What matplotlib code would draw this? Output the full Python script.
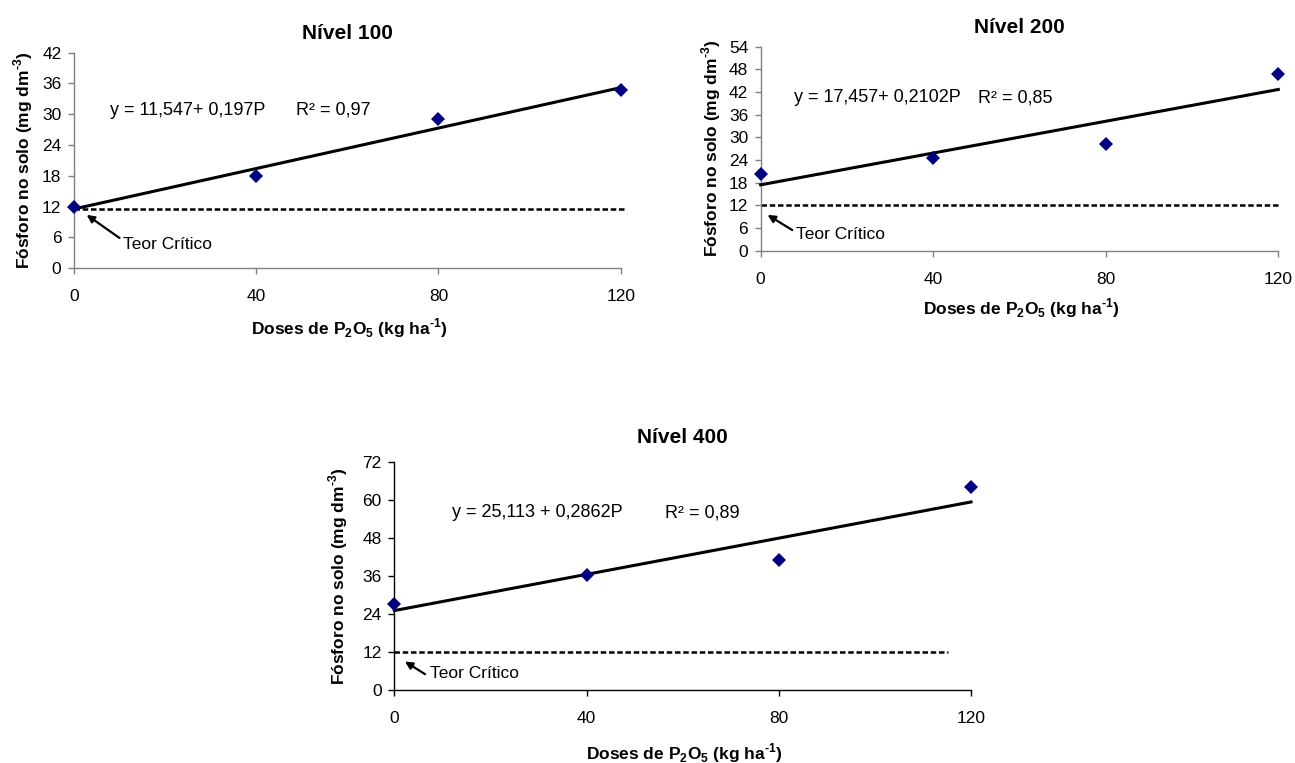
import matplotlib.pyplot as plt

plt.rcParams['font.family'] = ['Liberation Sans', 'DejaVu Sans']
plt.rcParams['mathtext.fontset'] = 'custom'
plt.rcParams['mathtext.rm'] = 'Liberation Sans:bold'
plt.rcParams['mathtext.bf'] = 'Liberation Sans:bold'
plt.rcParams['axes.unicode_minus'] = False

# ------------------------------------------------------------
# Data
# ------------------------------------------------------------
doses = [0, 40, 80, 120]
titles = ['Nível 100', 'Nível 200', 'Nível 400']
p_solo_100 = [12.0, 18.0, 29.1, 34.7]
p_solo_200 = [20.2, 24.5, 28.3, 46.8]
p_solo_400 = [27.2, 36.3, 41.0, 64.2]
p_solo = [p_solo_100, p_solo_200, p_solo_400]

intercepts = [11.547, 17.457, 25.113]
slopes = [0.197, 0.2102, 0.2862]
equations = ['y = 11,547+ 0,197P', 'y = 17,457+ 0,2102P', 'y = 25,113 + 0,2862P']
r2_values = ['0,97', '0,85', '0,89']

teor_critico = [11.6, 12.0, 12.0]
teor_x_end = [121, 120, 115.3]

y_max = [42, 54, 72]
y_step = [6, 6, 12]

# ------------------------------------------------------------
# Layout (pixel-measured, figure fractions / data coords)
# ------------------------------------------------------------
axes_rects = [
    [0.0571, 0.6484, 0.4222, 0.2826],
    [0.5874, 0.6713, 0.3997, 0.2675],
    [0.3045, 0.0957, 0.4453, 0.2984],
]
spine_colors = ['#808080', '#808080', 'black']
title_pads = [10, 10, 14]
eq_pos = [(7.9, 30.8), (7.7, 40.5), (12.0, 56.0)]
r2_x = [48.7, 50.4, 56.3]
teor_text_pos = [(10.8, 4.7), (8.2, 4.4), (7.4, 5.1)]
arrow_tip = [(2.8, 10.4), (1.6, 9.5), (2.2, 9.0)]
arrow_tail = [(10.0, 5.9), (7.3, 5.5), (6.4, 5.0)]
ylabel_x = [-0.093, -0.096, -0.098]
xlabel_y = [-0.277, -0.280, -0.277]

xlabel_text = r'Doses de P$_\mathbf{2}$O$_\mathbf{5}$ (kg ha$^{\text{-}\mathbf{1}}$)'
ylabel_text = r'Fósforo no solo (mg dm$^{\text{-}\mathbf{3}}$)'

fig = plt.figure(figsize=(12.95, 7.63), dpi=100)

for i in range(3):
    ax = fig.add_axes(axes_rects[i])
    ax.plot(doses, p_solo[i], linestyle='none', marker='D', markersize=7,
            color='#000080', markeredgewidth=0, clip_on=False, zorder=4)

    # regression line from the printed equation
    line_x = [doses[0], doses[-1]]
    line_y = [intercepts[i] + slopes[i] * x for x in line_x]
    ax.plot(line_x, line_y, color='black', linewidth=2.2, clip_on=False, zorder=3)

    # critical level (dashed)
    ax.plot([0, teor_x_end[i]], [teor_critico[i], teor_critico[i]], color='black',
            linewidth=1.8, dashes=(2.2, 1.1), clip_on=False, zorder=2)

    ax.set_xlim(0, 120)
    ax.set_ylim(0, y_max[i])
    ax.set_xticks(doses)
    ax.set_yticks(range(0, y_max[i] + 1, y_step[i]))

    for side in ['top', 'right']:
        ax.spines[side].set_visible(False)
    for side in ['left', 'bottom']:
        ax.spines[side].set_color(spine_colors[i])
        ax.spines[side].set_linewidth(1.0)
    ax.tick_params(axis='both', direction='out', length=4, width=1.0,
                   color=spine_colors[i], labelsize=12.5, labelcolor='black')
    ax.tick_params(axis='x', pad=11)
    ax.tick_params(axis='y', pad=5)

    ax.set_title(titles[i], fontsize=15, fontweight='bold', pad=title_pads[i])
    ax.set_xlabel(xlabel_text, fontsize=12.5, fontweight='bold', va='center')
    ax.xaxis.set_label_coords(0.503, xlabel_y[i])
    ax.set_ylabel(ylabel_text, fontsize=12.5, fontweight='bold', va='center')
    ax.yaxis.set_label_coords(ylabel_x[i], 0.5)

    ax.text(eq_pos[i][0], eq_pos[i][1], equations[i], fontsize=13,
            ha='left', va='center')
    ax.text(r2_x[i], eq_pos[i][1], 'R\u00b2 = ' + r2_values[i],
            fontsize=13, ha='left', va='center')

    ax.annotate('', xy=arrow_tip[i], xytext=arrow_tail[i],
                arrowprops=dict(arrowstyle='-|>', color='black', lw=1.6,
                                mutation_scale=11, shrinkA=0, shrinkB=0))
    ax.text(teor_text_pos[i][0], teor_text_pos[i][1], 'Teor Crítico',
            fontsize=12.5, ha='left', va='center')

plt.savefig('out.png', dpi=100)
